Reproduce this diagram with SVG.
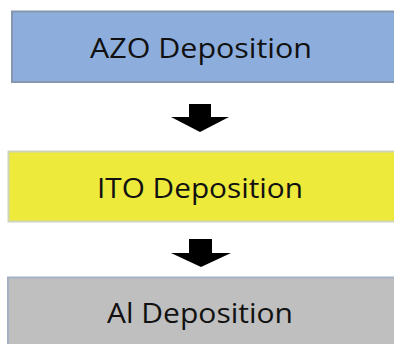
<svg xmlns="http://www.w3.org/2000/svg" width="394" height="344" viewBox="0 0 394 344">
<style>
.lbl{font-family:"Open Sans","Noto Sans","DejaVu Sans",sans-serif;font-size:28px;fill:#111;text-anchor:middle}
.arr{fill:#000}
</style>
<rect width="394" height="344" fill="#fff"/>
<g id="azo">
<rect x="12" y="11.5" width="390" height="70.5" fill="#8DAEDC" stroke="#8497ae" stroke-width="2"/>
<text class="lbl" x="201" y="58" textLength="222" lengthAdjust="spacingAndGlyphs">AZO Deposition</text>
</g>
<g id="ito">
<rect x="8.5" y="151.5" width="394" height="70" fill="#EDEA3C" stroke="#cdd4b8" stroke-width="2"/>
<text class="lbl" x="200" y="198" textLength="206" lengthAdjust="spacingAndGlyphs">ITO Deposition</text>
</g>
<g id="al">
<rect x="8" y="277.5" width="394" height="80" fill="#BFBFBF" stroke="#a3b1c3" stroke-width="2"/>
<text class="lbl" x="200" y="323" textLength="186" lengthAdjust="spacingAndGlyphs">Al Deposition</text>
</g>
<g id="connectors">
<polygon class="arr" points="189,104 211,104 211,117 229,117 200,132 171,117 189,117"/>
<polygon class="arr" points="189,239 212,239 212,253 231,253 201,267 171,253 189,253"/>
</g>
</svg>
